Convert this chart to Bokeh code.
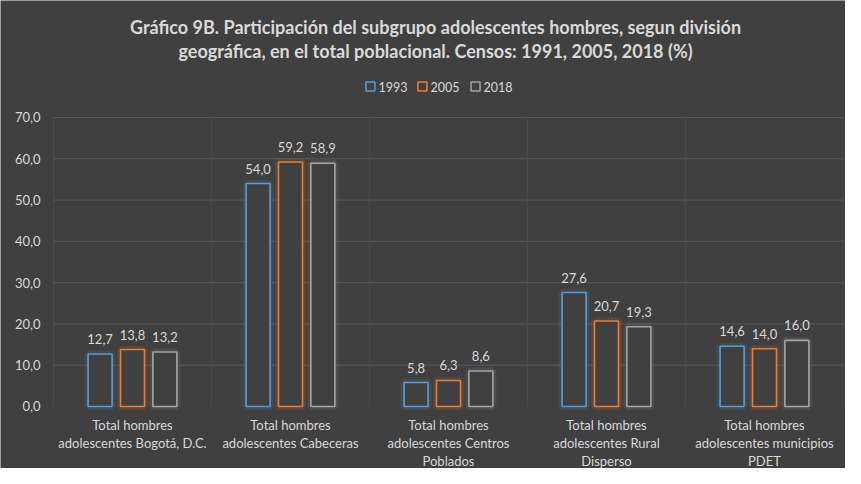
from bokeh.plotting import figure
from bokeh.models import ColumnDataSource, Range1d
from bokeh.core.properties import value
from bokeh.embed import file_html
from bokeh.resources import INLINE

categories = [
    "Total hombres\nadolescentes Bogotá, D.C.",
    "Total hombres\nadolescentes Cabeceras",
    "Total hombres\nadolescentes Centros\nPoblados",
    "Total hombres\nadolescentes Rural\nDisperso",
    "Total hombres\nadolescentes municipios\nPDET",
]
series_names = ["1993", "2005", "2018"]
v1993 = [12.7, 54.0, 5.8, 27.6, 14.6]
v2005 = [13.8, 59.2, 6.3, 20.7, 14.0]
v2018 = [13.2, 58.9, 8.6, 19.3, 16.0]
y_ticks = [0, 10, 20, 30, 40, 50, 60, 70]
y_tick_labels = ["0,0", "10,0", "20,0", "30,0", "40,0", "50,0", "60,0", "70,0"]
title_lines = [
    "Gráfico 9B. Participación del subgrupo adolescentes hombres, segun división",
    "geográfica, en el total poblacional. Censos: 1991, 2005, 2018 (%)",
]

colors = ["#5b9bd5", "#ed7d31", "#a5a5a5"]
offsets = [-0.205, 0.0, 0.205]
BG = "#404040"
TXT = "#d9d9d9"
FONT = "Lato"
N = len(categories)
Y_MAX = 70
Y_TOP = 98.33    # room above the plot for title and legend
Y_BOT = -15.02   # room below the plot for category labels
X_LEFT = -0.3354  # room on the left for the value labels
X_RIGHT = 5.0127

p = figure(width=845, height=468, output_backend="svg", toolbar_location=None,
           x_range=Range1d(X_LEFT, X_RIGHT), y_range=Range1d(Y_BOT, Y_TOP),
           x_axis_location=None, y_axis_location=None,
           min_border=0,
           background_fill_color=BG, border_fill_color=BG, outline_line_color=None)
p.xgrid.visible = False
p.ygrid.visible = False

centers = [i + 0.5 for i in range(N)]

# horizontal gridlines (10..70)
gy = [t for t in y_ticks if t > 0]
p.segment(x0=[0] * len(gy), y0=gy, x1=[N] * len(gy), y1=gy,
          line_color="#595959", line_width=1)
# vertical separators between categories
bounds = [float(i) for i in range(N + 1)]
p.segment(x0=bounds, y0=[0] * len(bounds), x1=bounds, y1=[Y_MAX] * len(bounds),
          line_color="#4a4a4a", line_width=1)

# y tick labels
p.text(x=[-0.0823] * len(y_ticks), y=y_ticks, text=y_tick_labels, text_align="right",
       text_baseline="middle", text_color=TXT, text_font=value(FONT),
       text_font_size="13px")

for vals, col, off in zip([v1993, v2005, v2018], colors, offsets):
    xs = [c + off for c in centers]
    src = ColumnDataSource(dict(x=xs, top=vals, lab=[f"{v:.1f}".replace(".", ",") for v in vals]))
    p.vbar(x="x", top="top", width=0.152, source=src, fill_color=None,
           line_color=col, line_width=7, line_alpha=0.12)
    p.vbar(x="x", top="top", width=0.152, source=src, fill_color=BG,
           line_color=col, line_width=1.6)
    p.text(x="x", y="top", text="lab", source=src, text_align="center",
           text_baseline="middle", y_offset=-15, text_color=TXT,
           text_font=value(FONT), text_font_size="13px")

# category labels (one text per line for exact spacing)
line_step = 4.36
cx, cy, ct = [], [], []
for c, cat in zip(centers, categories):
    for k, ln in enumerate(cat.split("\n")):
        cx.append(c)
        cy.append(-4.6 - k * line_step)
        ct.append(ln)
p.text(x=cx, y=cy, text=ct, text_align="center", text_baseline="middle",
       text_color=TXT, text_font=value(FONT), text_font_size="13px")

# title (two lines)
p.text(x=[2.418, 2.418], y=[92.0, 86.0], text=title_lines, text_align="center",
       text_baseline="middle", text_color=TXT, text_font=value(FONT),
       text_font_size="18px", text_font_style="bold")

# legend (drawn manually)
leg_x = [2.006, 2.335, 2.671]
leg_tx = [2.057, 2.386, 2.722]
leg_y = 77.5
p.scatter(x=leg_x, y=[leg_y] * 3, marker="square", size=9, fill_color=None,
          line_color=colors, line_width=1.5)
p.text(x=leg_tx, y=[leg_y] * 3, text=series_names, text_align="left",
       text_baseline="middle", text_color=TXT, text_font=value(FONT),
       text_font_size="12.5px")

open("out.html", "w").write(file_html(p, INLINE))
